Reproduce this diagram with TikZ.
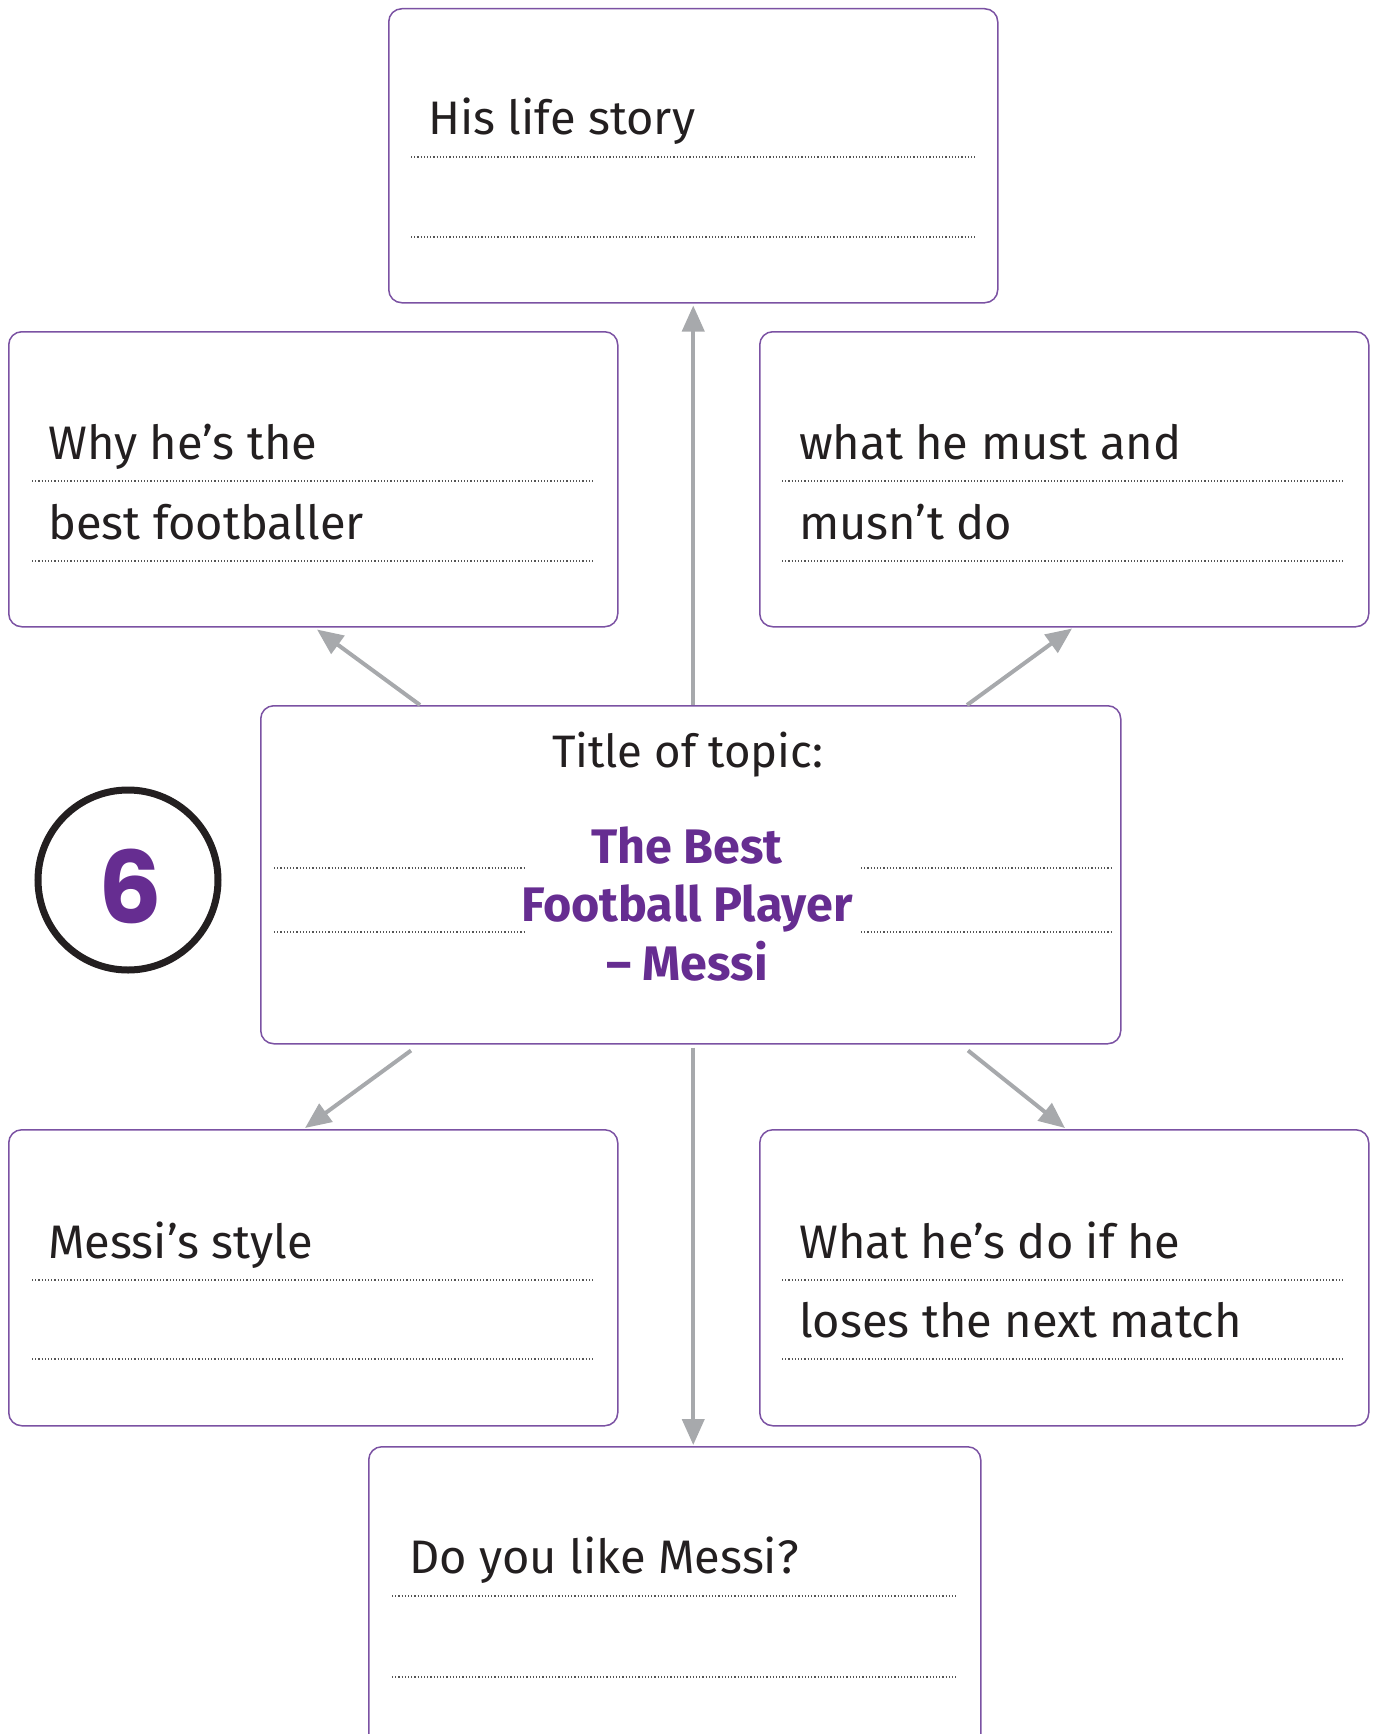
\documentclass[tikz,border=0pt]{standalone}
\usepackage{fontspec}
\setmainfont{Fira Sans}
\newfontfamily\numfont{Poppins}
\usetikzlibrary{arrows.meta}
\definecolor{ink}{RGB}{35,31,32}
\definecolor{frame}{RGB}{123,82,163}
\definecolor{accent}{RGB}{102,45,145}
\definecolor{arrowgray}{RGB}{167,169,172}
\definecolor{dotgray}{RGB}{85,85,85}
\begin{document}
\begin{tikzpicture}[x=1pt,y=-1pt,
  box/.style={draw=frame, line width=1.5pt, rounded corners=13pt, fill=white,
    inner sep=0pt, anchor=north west},
  txt/.style={font=\fontsize{47}{56}\selectfont, text=ink, inner sep=0pt, anchor=base west},
  headline/.style={font=\fontsize{48.5}{54}\selectfont\bfseries, text=accent, inner sep=0pt, anchor=base},
  dotline/.style={draw=dotgray, line width=1.2pt, dash pattern=on 1.2pt off 2pt},
  arr/.style={draw=arrowgray, line width=4pt, -{Triangle[length=26pt,width=22pt]}},
]
\useasboundingbox (0,0) rectangle (1376,1734);
\clip (0,0) rectangle (1376,1734);

% boxes
\node[box, minimum width=609pt, minimum height=294pt] (top) at (388,8) {};
\node[box, minimum width=609pt, minimum height=295pt] (lm) at (8,331) {};
\node[box, minimum width=609pt, minimum height=295pt] (rm) at (759,331) {};
\node[box, minimum width=860pt, minimum height=338pt] (center) at (260,705) {};
\node[box, minimum width=609pt, minimum height=296pt] (bl) at (8,1129) {};
\node[box, minimum width=609pt, minimum height=296pt] (br) at (759,1129) {};
\node[box, minimum width=612pt, minimum height=400pt] (bot) at (368,1446) {};

% number badge
\node[draw=ink, line width=7pt, circle, minimum size=180pt, inner sep=0pt] (badge) at (128,880) {};
\node[font=\fontsize{100}{102}\selectfont\numfont\bfseries, text=accent, inner sep=0pt] (badgenum) at (130,886) {6};

% top box
\node[txt] (toptext) at (428,135) {His life story};
\draw[dotline] (411,157) -- (977,157);
\draw[dotline] (411,237) -- (977,237);

% left middle box
\node[txt] (lmtext1) at (48,459) {Why he’s the};
\node[txt] (lmtext2) at (48,539) {best footballer};
\draw[dotline] (32,481) -- (595,481);
\draw[dotline] (32,561) -- (595,561);

% right middle box
\node[txt] (rmtext1) at (799,459) {what he must and};
\node[txt] (rmtext2) at (799,539) {musn’t do};
\draw[dotline] (782,481) -- (1345,481);
\draw[dotline] (782,561) -- (1345,561);

% centre box
\node[txt, anchor=base, font=\fontsize{45.5}{54}\selectfont] (ctitle) at (688,767) {Title of topic:};
\node[headline] (c1) at (687,863) {The Best};
\node[headline] (c2) at (687,921) {Football Player};
\node[headline] (c3) at (687,980) {– Messi};
\draw[dotline] (274,868) -- (526,868);
\draw[dotline] (274,932) -- (526,932);
\draw[dotline] (861,868) -- (1113,868);
\draw[dotline] (861,932) -- (1113,932);

% bottom left box
\node[txt] (bltext) at (48,1258) {Messi’s style};
\draw[dotline] (32,1280) -- (595,1280);
\draw[dotline] (32,1359) -- (595,1359);

% bottom right box
\node[txt] (brtext1) at (799,1258) {What he’s do if he};
\node[txt] (brtext2) at (799,1337) {loses the next match};
\draw[dotline] (782,1280) -- (1345,1280);
\draw[dotline] (782,1359) -- (1345,1359);

% bottom box
\node[txt] (bottext) at (409,1573) {Do you like Messi?};
\draw[dotline] (392,1596) -- (957,1596);
\draw[dotline] (392,1677) -- (957,1677);

% connectors
\draw[arr] (center.north -| top.south) -- ([yshift=-2pt]top.south);
\draw[arr] ([yshift=-3pt]center.south -| top.south) -- ([yshift=1pt]bot.north -| top.south);
\draw[arr] ([xshift=160pt]center.north west) -- ([xshift=309pt,yshift=-2pt]lm.south west);
\draw[arr] ([xshift=707pt]center.north west) -- ([xshift=313pt,yshift=-1pt]rm.south west);
\draw[arr] ([xshift=151pt,yshift=-6pt]center.south west) -- ([xshift=297pt,yshift=1pt]bl.north west);
\draw[arr] ([xshift=708pt,yshift=-6pt]center.south west) -- ([xshift=306pt,yshift=1pt]br.north west);
\end{tikzpicture}
\end{document}
